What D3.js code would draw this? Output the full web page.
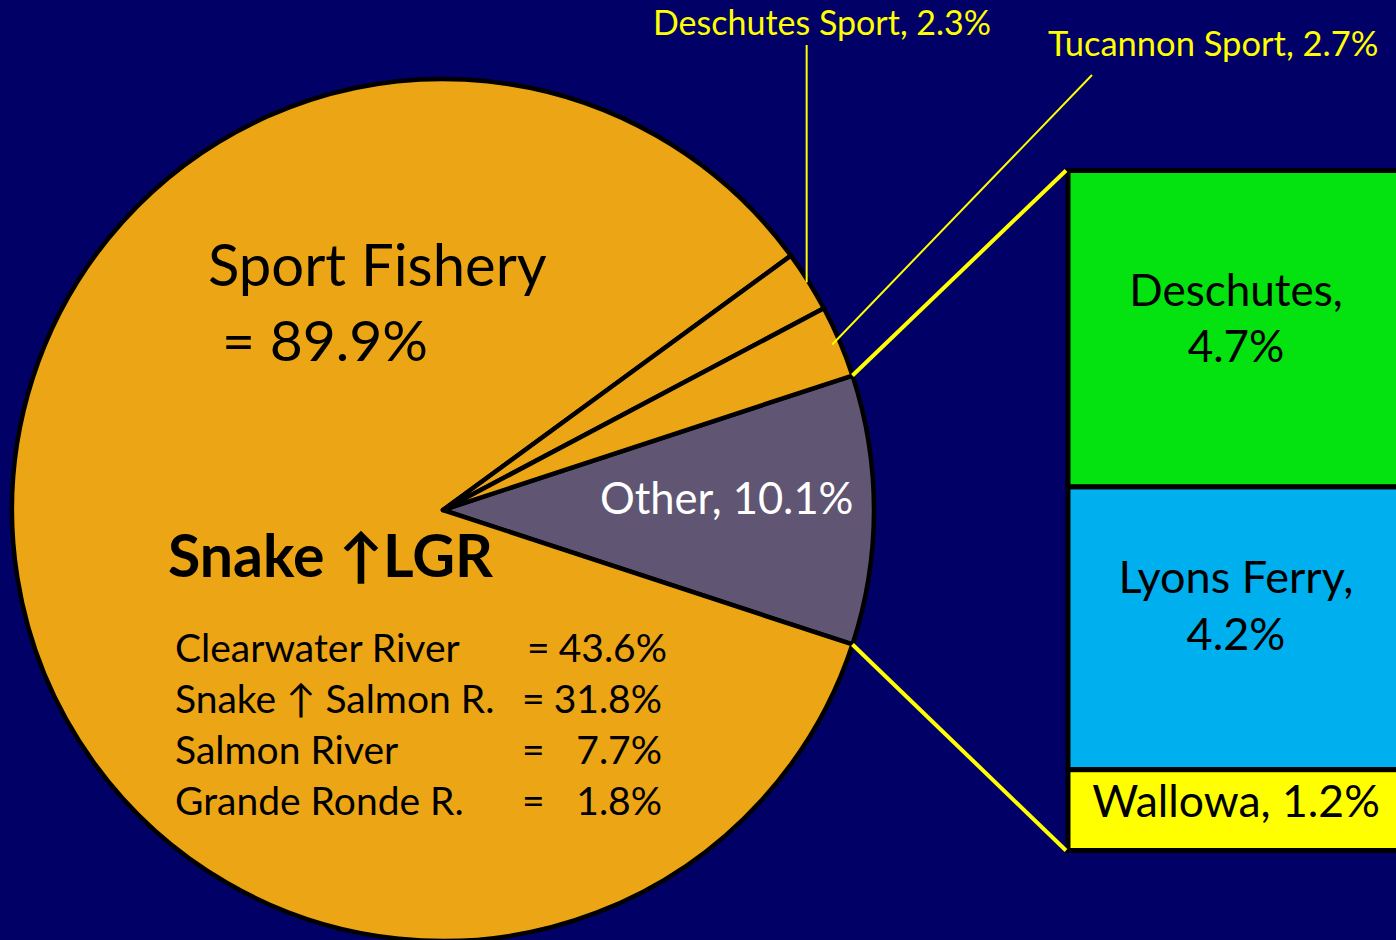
<!DOCTYPE html>
<html><head><meta charset="utf-8">
<script src="https://cdn.jsdelivr.net/npm/d3@7"></script>
<style>html,body{margin:0;padding:0;background:#000066;overflow:hidden}</style>
</head><body>
<svg id="chart" width="1396" height="940"></svg>
<script>
// ---- data ----
const mainCategories = ["Other", "Snake ↑LGR", "Deschutes Sport", "Tucannon Sport"];
const mainValues = [10.1, 84.9, 2.3, 2.7];
const sportTotalLabel = "89.9%";
const otherCategories = ["Deschutes", "Lyons Ferry", "Wallowa"];
const otherValues = [4.7, 4.2, 1.2];
const snakeRows = ["Clearwater River", "Snake ↑ Salmon R.", "Salmon River", "Grande Ronde R."];
const snakeValues = [43.6, 31.8, 7.7, 1.8];

const FONT = "Lato, 'Open Sans', sans-serif";
const svg = d3.select("#chart");
svg.append("rect").attr("width", 1396).attr("height", 940).attr("fill", "#000066");

const cx = 443, cy = 510, R = 431;
const total = d3.sum(mainValues);
const half = Math.PI * mainValues[0] / total;
const pie = d3.pie().sort(null).value(d => d)
  .startAngle(Math.PI / 2 - half).endAngle(Math.PI / 2 - half + 2 * Math.PI);
const arcs = pie(mainValues);
const arc = d3.arc().innerRadius(0).outerRadius(R);
const mainColors = ["#605673", "#eca514", "#eca514", "#eca514"];

const g = svg.append("g").attr("transform", `translate(${cx},${cy})`);
g.selectAll("path.slice").data(arcs).join("path")
  .attr("class", "slice")
  .attr("d", arc)
  .attr("fill", (d, i) => mainColors[i])
  .attr("stroke", "#000").attr("stroke-width", 4.5).attr("stroke-linejoin", "round");

const pt = (a, r) => [cx + r * Math.sin(a), cy - r * Math.cos(a)];

// ---- stacked bar of "Other" ----
const barX0 = 1068, barX1 = 1420;
const yScale = d3.scaleLinear().domain([0, d3.sum(otherValues)]).range([170.5, 850.5]);
const cum = d3.cumsum(otherValues);
const barData = otherValues.map((v, i) => ({ name: otherCategories[i], v, y0: i ? cum[i - 1] : 0, y1: cum[i] }));
const barColors = ["#04e210", "#00b0ee", "#ffff00"];
svg.selectAll("rect.seg").data(barData).join("rect")
  .attr("class", "seg")
  .attr("x", barX0).attr("width", barX1 - barX0)
  .attr("y", d => yScale(d.y0)).attr("height", d => yScale(d.y1) - yScale(d.y0))
  .attr("fill", (d, i) => barColors[i])
  .attr("stroke", "#000").attr("stroke-width", 5);

// connector lines
const oTop = pt(arcs[0].startAngle, R), oBot = pt(arcs[0].endAngle, R);
svg.append("line").attr("x1", oTop[0]).attr("y1", oTop[1]).attr("x2", barX0 - 2).attr("y2", yScale(0))
  .attr("stroke", "#ffff00").attr("stroke-width", 4);
svg.append("line").attr("x1", oBot[0]).attr("y1", oBot[1]).attr("x2", barX0 - 2).attr("y2", yScale(d3.sum(otherValues)))
  .attr("stroke", "#ffff00").attr("stroke-width", 4);

// bar labels
const barLabelX = 1236;
const bl = svg.append("g").attr("font-family", FONT).attr("fill", "#000").attr("text-anchor", "middle");
const labelOffsets = [[-23, 33], [-35, 22]];
const labelSizes = [44, 45];
[0, 1].forEach(i => {
  const d = barData[i];
  const mid = (yScale(d.y0) + yScale(d.y1)) / 2;
  bl.append("text").attr("x", barLabelX).attr("y", mid + labelOffsets[i][0]).attr("font-size", labelSizes[i]).text(d.name + ",");
  bl.append("text").attr("x", barLabelX).attr("y", mid + labelOffsets[i][1]).attr("font-size", labelSizes[i]).text(d.v.toFixed(1) + "%");
});
{
  const d = barData[2];
  const mid = (yScale(d.y0) + yScale(d.y1)) / 2;
  bl.append("text").attr("x", barLabelX).attr("y", mid + 7).attr("font-size", 44.5).text(d.name + ", " + d.v.toFixed(1) + "%");
}

// ---- leader labels for sport slices ----
const dsMid = (arcs[2].startAngle + arcs[2].endAngle) / 2;
const dsPt = pt(dsMid, R - 2);
svg.append("line").attr("x1", dsPt[0]).attr("y1", 45).attr("x2", dsPt[0]).attr("y2", dsPt[1])
  .attr("stroke", "#ffff00").attr("stroke-width", 2);
svg.append("text").attr("x", 653).attr("y", 35).attr("font-family", FONT).attr("font-size", 34)
  .attr("fill", "#ffff00").text(mainCategories[2] + ", " + mainValues[2].toFixed(1) + "%");

const tuMid = (arcs[3].startAngle + arcs[3].endAngle) / 2;
const tuPt = pt(tuMid, R - 8);
svg.append("line").attr("x1", 1092).attr("y1", 75).attr("x2", tuPt[0]).attr("y2", tuPt[1])
  .attr("stroke", "#ffff00").attr("stroke-width", 2);
svg.append("text").attr("x", 1048).attr("y", 56).attr("font-family", FONT).attr("font-size", 34.5)
  .attr("fill", "#ffff00").text(mainCategories[3] + ", " + mainValues[3].toFixed(1) + "%");

// ---- inside labels ----
svg.append("text").attr("x", 600).attr("y", 514).attr("font-family", FONT).attr("font-size", 43.5)
  .attr("fill", "#fff").text(mainCategories[0] + ", " + mainValues[0].toFixed(1) + "%");

svg.append("text").attr("x", 208).attr("y", 286).attr("font-family", FONT).attr("font-size", 58)
  .attr("fill", "#000").text("Sport Fishery");
svg.append("text").attr("x", 222).attr("y", 361).attr("font-family", FONT).attr("font-size", 57)
  .attr("fill", "#000").text("= " + sportTotalLabel);

svg.append("text").attr("x", 168).attr("y", 577).attr("font-family", FONT).attr("font-size", 59)
  .attr("font-weight", "bold").attr("fill", "#000").text(mainCategories[1]);

const rowY = d3.scalePoint().domain(snakeRows).range([662, 815]);
const rows = svg.append("g").attr("font-family", FONT).attr("font-size", 39).attr("fill", "#000");
rows.selectAll("text.name").data(snakeRows).join("text").attr("class", "name")
  .attr("x", 175).attr("y", d => rowY(d)).text(d => d);
rows.selectAll("text.eq").data(snakeRows).join("text").attr("class", "eq")
  .attr("x", (d, i) => i === 0 ? 527 : 522).attr("y", d => rowY(d)).text("=");
rows.selectAll("text.val").data(snakeValues).join("text").attr("class", "val")
  .attr("x", (d, i) => i === 0 ? 667 : 662).attr("y", (d, i) => rowY(snakeRows[i]))
  .attr("text-anchor", "end").text(d => d.toFixed(1) + "%");
</script>
</body></html>
